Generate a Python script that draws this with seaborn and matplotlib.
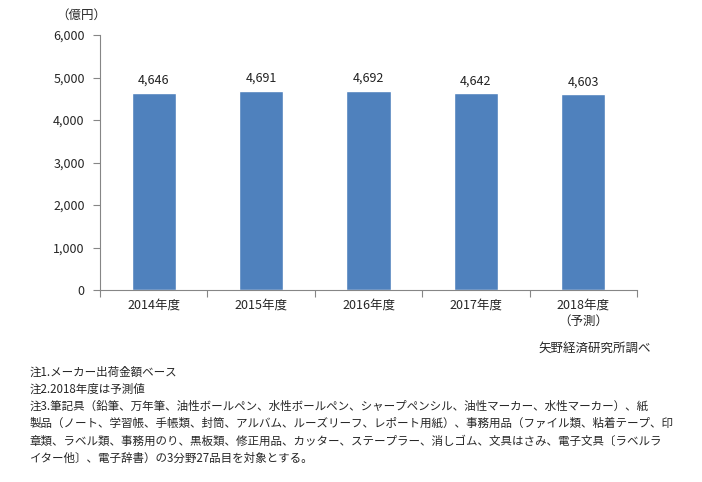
import matplotlib
matplotlib.use("Agg")
import matplotlib.pyplot as plt
import seaborn as sns
import pandas as pd
from matplotlib.ticker import FuncFormatter, FixedLocator

years = ['2014年度', '2015年度', '2016年度', '2017年度', '2018年度\n（予測）']
market = [4646, 4691, 4692, 4642, 4603]
notes = [
    '注1.メーカー出荷金額ベース',
    '注2.2018年度は予測値',
    '注3.筆記具（鉛筆、万年筆、油性ボールペン、水性ボールペン、シャープペンシル、油性マーカー、水性マーカー）、紙',
    '製品（ノート、学習帳、手帳類、封筒、アルバム、ルーズリーフ、レポート用紙）、事務用品（ファイル類、粘着テープ、印',
    '章類、ラベル類、事務用のり、黒板類、修正用品、カッター、ステープラー、消しゴム、文具はさみ、電子文具〔ラベルラ',
    'イター他〕、電子辞書）の3分野27品目を対象とする。',
]

sns.set_style('white')
plt.rcParams['font.family'] = ['Noto Sans CJK JP', 'DejaVu Sans']

df = pd.DataFrame({'year': years, 'value': market})

W, H = 702, 482
fig = plt.figure(figsize=(W / 100, H / 100), dpi=100)
ax = fig.add_axes([100 / W, 1 - 290 / H, 537 / W, 255 / H])

sns.barplot(data=df, x='year', y='value', color='#4F81BD', width=0.41,
            saturation=1, ax=ax)

ax.bar_label(ax.containers[0], labels=[f'{v:,}' for v in market],
             padding=4, fontsize=9, color='#222222')

ax.set_ylim(0, 6000)
ax.set_xlim(-0.5, len(years) - 0.5)
ax.set_yticks(range(0, 6001, 1000))
ax.yaxis.set_major_formatter(FuncFormatter(lambda v, p: f'{int(v):,}'))
ax.xaxis.set_minor_locator(FixedLocator([i - 0.5 for i in range(len(years) + 1)]))
ax.tick_params(axis='x', which='major', length=0, pad=6, labelsize=9)
ax.tick_params(axis='x', which='minor', length=5, width=0.8, color='#868686', direction='out')
ax.tick_params(axis='y', length=5, width=0.8, color='#868686', direction='out', labelsize=9, pad=6)
ax.xaxis.set_ticks_position('bottom')
ax.yaxis.set_ticks_position('left')
for lab in ax.get_xticklabels():
    lab.set_linespacing(1.3)

sns.despine(ax=ax)
for s in ['left', 'bottom']:
    ax.spines[s].set_color('#868686')
    ax.spines[s].set_linewidth(0.8)

ax.set_xlabel('')
ax.set_ylabel('')

fig.text(56 / W, 1 - 15 / H, '（億円）', fontsize=9, va='center', ha='left')
fig.text(595 / W, 1 - 348 / H, '矢野経済研究所調べ', fontsize=9, va='center', ha='center')

ys = [372, 389, 406, 423, 441, 458]
for y, t in zip(ys, notes):
    fig.text(30 / W, 1 - y / H, t, fontsize=8.3, va='center', ha='left')

fig.savefig('out.png', dpi=100)
